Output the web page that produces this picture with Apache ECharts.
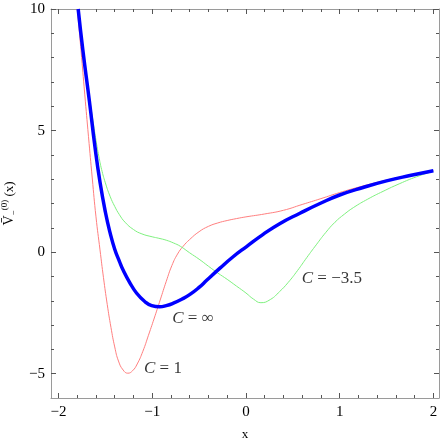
<!DOCTYPE html>
<html>
<head>
<meta charset="utf-8">
<script src="https://cdn.jsdelivr.net/npm/echarts@6/dist/echarts.min.js"></script>
<style>
  html, body { margin: 0; padding: 0; background: #fff; }
  #chart { width: 441px; height: 443px; }
</style>
</head>
<body>
<div id="chart"></div>
<script>
// axis ranges and ticks
const xMin = -2.08, xMax = 2.06
const yMin = -6, yMax = 10
const xMajor = [-2, -1, 0, 1, 2]
const xMinor = [-1.8, -1.6, -1.4, -1.2, -0.8, -0.6, -0.4, -0.2, 0.2, 0.4, 0.6, 0.8, 1.2, 1.4, 1.6, 1.8]
const yMajor = [-5, 0, 5, 10]
const yMinor = [-4, -3, -2, -1, 1, 2, 3, 4, 6, 7, 8, 9]

// C = infinity (thick blue)
const blueData = [
  [-1.79, 10], [-1.74, 8.3], [-1.67, 6.2], [-1.61, 4.3], [-1.556, 2.85], [-1.5, 1.65],
  [-1.45, 0.8], [-1.4, 0.12], [-1.35, -0.38], [-1.308, -0.76], [-1.24, -1.25], [-1.166, -1.69],
  [-1.08, -2.03], [-1.006, -2.2], [-0.92, -2.25], [-0.85, -2.2], [-0.775, -2.1],
  [-0.68, -1.93], [-0.597, -1.74], [-0.5, -1.45], [-0.419, -1.16], [-0.277, -0.66],
  [-0.14, -0.2], [0.007, 0.23], [0.18, 0.72], [0.36, 1.17], [0.576, 1.6], [0.79, 2.0],
  [1.0, 2.35], [1.25, 2.66], [1.5, 2.93], [1.75, 3.15], [2.0, 3.35]
]
// C = 1 (thin red)
const redData = [
  [-1.8, 10], [-1.76, 8.3], [-1.72, 6.5], [-1.68, 4.75], [-1.64, 3.05], [-1.6, 1.45],
  [-1.557, 0.09], [-1.52, -1.05], [-1.48, -2.15], [-1.44, -3.1], [-1.4, -3.9], [-1.36, -4.48],
  [-1.31, -4.85], [-1.26, -4.98], [-1.21, -4.88], [-1.16, -4.6], [-1.1, -4.08], [-1.04, -3.42],
  [-0.97, -2.62], [-0.915, -1.97], [-0.85, -1.2], [-0.79, -0.55], [-0.73, -0.08], [-0.67, 0.24],
  [-0.6, 0.52], [-0.5, 0.84], [-0.4, 1.06], [-0.3, 1.2], [-0.2, 1.3], [-0.1, 1.38], [0, 1.45],
  [0.2, 1.57], [0.4, 1.72], [0.6, 1.96], [0.8, 2.2], [1.0, 2.45], [1.2, 2.67], [1.4, 2.87],
  [1.6, 3.05], [1.8, 3.21], [2.0, 3.35]
]
// C = -3.5 (thin green)
const greenData = [
  [-1.79, 10], [-1.72, 7.7], [-1.66, 6.1], [-1.628, 5.3], [-1.6, 4.6], [-1.57, 3.95],
  [-1.54, 3.4], [-1.5, 2.85], [-1.45, 2.3], [-1.4, 1.88], [-1.35, 1.54], [-1.29, 1.23],
  [-1.2, 0.93], [-1.11, 0.75], [-1.0, 0.63], [-0.93, 0.57], [-0.85, 0.49], [-0.775, 0.38],
  [-0.7, 0.24], [-0.6, -0.03], [-0.5, -0.29], [-0.4, -0.58], [-0.3, -0.86], [-0.2, -1.12],
  [-0.1, -1.4], [0, -1.68], [0.08, -1.93], [0.16, -2.08], [0.26, -1.95], [0.36, -1.62],
  [0.45, -1.25], [0.55, -0.76], [0.65, -0.22], [0.75, 0.3], [0.85, 0.8], [0.95, 1.23],
  [1.05, 1.56], [1.15, 1.84], [1.3, 2.18], [1.463, 2.5], [1.642, 2.82], [1.82, 3.1], [2.0, 3.33]
]
// curve labels
const labelPos = [[-0.565, -2.74], [-0.885, -4.8], [0.917, -1.09]]
const labelText = ['∞', '1', '−3.5']

const serif = 'Liberation Serif, Times New Roman, serif'
const frameColor = '#9a9a9a'
const tickColor = '#555'

function xAx(grid, pos, ticks, len, labels) {
  return {
    type: 'value', gridIndex: grid, position: pos, min: xMin, max: xMax,
    splitLine: { show: false },
    axisLine: { show: grid === 0, onZero: false, lineStyle: { color: frameColor, width: 1 } },
    axisTick: { show: true, inside: true, length: len, customValues: ticks, lineStyle: { color: tickColor } },
    axisLabel: labels ? {
      show: true, customValues: ticks, margin: 7, color: '#000', fontFamily: serif, fontSize: 15,
      formatter: v => (v < 0 ? '−' + (-v) : '' + v)
    } : { show: false },
    name: labels ? 'x' : '', nameLocation: 'middle', nameGap: 30,
    nameTextStyle: { color: '#000', fontFamily: serif, fontSize: 13 }
  }
}
function yAx(grid, pos, ticks, len, labels) {
  return {
    type: 'value', gridIndex: grid, position: pos, min: yMin, max: yMax,
    splitLine: { show: false },
    axisLine: { show: grid === 0, onZero: false, lineStyle: { color: frameColor, width: 1 } },
    axisTick: { show: true, inside: true, length: len, customValues: ticks, lineStyle: { color: tickColor } },
    axisLabel: labels ? {
      show: true, customValues: ticks, margin: 6, color: '#000', fontFamily: serif, fontSize: 15,
      formatter: v => (v < 0 ? '−' + (-v) : '' + v)
    } : { show: false },
    name: labels ? '{v|V\u0304}{sub|−}{sup|(0)}{p| (x)}' : '',
    nameLocation: 'middle', nameGap: 28, nameRotate: 90,
    nameTextStyle: {
      color: '#000', fontFamily: serif, fontSize: 13,
      rich: {
        v: { fontFamily: serif, fontSize: 14, color: '#000', lineHeight: 18, verticalAlign: 'middle' },
        sub: { fontFamily: serif, fontSize: 9, color: '#000', verticalAlign: 'bottom', lineHeight: 18 },
        sup: { fontFamily: serif, fontSize: 9, color: '#000', verticalAlign: 'top', lineHeight: 18 },
        p: { fontFamily: serif, fontSize: 13, color: '#000', verticalAlign: 'middle', lineHeight: 18 }
      }
    }
  }
}

const chart = echarts.init(document.getElementById('chart'))
const gridBox = { left: 51, top: 9, right: 2, bottom: 45, outerBoundsMode: 'none' }

chart.setOption({
  animation: false,
  grid: [Object.assign({}, gridBox), Object.assign({}, gridBox)],
  xAxis: [
    xAx(0, 'bottom', xMajor, 5, true), xAx(0, 'top', xMajor, 5, false),
    xAx(1, 'bottom', xMinor, 3, false), xAx(1, 'top', xMinor, 3, false)
  ],
  yAxis: [
    yAx(0, 'left', yMajor, 5, true), yAx(0, 'right', yMajor, 5, false),
    yAx(1, 'left', yMinor, 3, false), yAx(1, 'right', yMinor, 3, false)
  ],
  series: [
    {
      name: 'C = 1', type: 'line', xAxisIndex: 0, yAxisIndex: 0, data: redData,
      smooth: 0.5, showSymbol: false, clip: true,
      lineStyle: { color: '#ff7f7f', width: 1 }
    },
    {
      name: 'C = -3.5', type: 'line', xAxisIndex: 0, yAxisIndex: 0, data: greenData,
      smooth: 0.5, showSymbol: false, clip: true,
      lineStyle: { color: '#7ff07f', width: 1 }
    },
    {
      name: 'C = inf', type: 'line', xAxisIndex: 0, yAxisIndex: 0, data: blueData,
      smooth: 0.5, showSymbol: false, clip: true,
      lineStyle: { color: '#0000ff', width: 3.5 }
    },
    {
      type: 'scatter', xAxisIndex: 0, yAxisIndex: 0, symbolSize: 0, silent: true,
      data: labelPos.map((p, i) => [p[0], p[1], labelText[i]]),
      label: {
        show: true, position: 'inside',
        formatter: p => '{c|C}{t| = ' + p.value[2] + '}',
        rich: {
          c: { fontFamily: serif, fontStyle: 'italic', fontSize: 17, color: '#000' },
          t: { fontFamily: serif, fontSize: 17, color: '#000' }
        }
      }
    }
  ]
})
</script>
</body>
</html>
